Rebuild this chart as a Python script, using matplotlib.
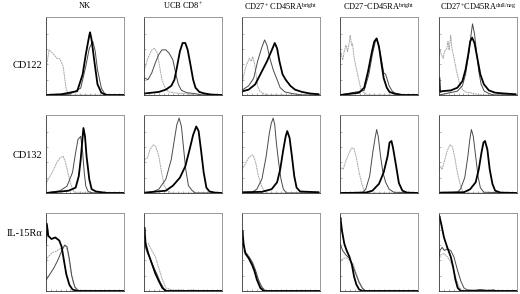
import matplotlib
matplotlib.use("Agg")
import matplotlib.pyplot as plt

plt.rcParams['font.family'] = ['Liberation Serif', 'DejaVu Serif']
plt.rcParams['mathtext.fontset'] = 'custom'
plt.rcParams['mathtext.rm'] = 'Liberation Serif'
plt.rcParams['mathtext.it'] = 'Liberation Serif:italic'
plt.rcParams['mathtext.bf'] = 'Liberation Serif:bold'

# ---- labels ----
col_titles = ["NK", "UCB CD8$^{+}$", "CD27$^{+}$ CD45RA$^{\\mathrm{bright}}$",
              "CD27$^{-}$CD45RA$^{\\mathrm{bright}}$", "CD27$^{+}$CD45RA$^{\\mathrm{dull/neg}}$"]
row_labels = ["CD122", "CD132", "IL-15R\u03b1"]

# ---- histogram data: (fluorescence position 0-1, relative count 0-1) ----
# Row 1: CD122
nk_cd122_iso = ([0.0, 0.01, 0.04, 0.10, 0.14, 0.18, 0.22, 0.24, 0.26, 0.29, 0.33, 1.0],
                [0.30, 0.40, 0.59, 0.53, 0.48, 0.47, 0.375, 0.22, 0.07, 0.02, 0.0, 0.0])
nk_cd122_thin = ([0.0, 0.30, 0.445, 0.51, 0.555, 0.60, 0.63, 0.66, 0.71, 0.75, 0.80, 1.0],
                 [0.0, 0.01, 0.09, 0.375, 0.61, 0.70, 0.58, 0.33, 0.09, 0.02, 0.0, 0.0])
nk_cd122_thick = ([0.0, 0.20, 0.40, 0.47, 0.51, 0.555, 0.565, 0.585, 0.62, 0.66, 0.71, 0.77, 1.0],
                  [0.0, 0.01, 0.05, 0.27, 0.53, 0.78, 0.82, 0.72, 0.44, 0.14, 0.03, 0.0, 0.0])

ucb_cd122_iso = ([0.0, 0.01, 0.05, 0.10, 0.135, 0.17, 0.20, 0.23, 0.27, 0.32, 0.41, 0.50, 0.59, 0.65, 1.0],
                 [0.30, 0.35, 0.48, 0.59, 0.61, 0.55, 0.375, 0.20, 0.095, 0.04, 0.025, 0.02, 0.01, 0.0, 0.0])
ucb_cd122_thin = ([0.0, 0.01, 0.05, 0.10, 0.145, 0.19, 0.23, 0.28, 0.32, 0.37, 0.405, 0.44, 0.48, 0.55, 0.64, 0.75, 1.0],
                  [0.20, 0.22, 0.20, 0.29, 0.42, 0.53, 0.59, 0.59, 0.55, 0.46, 0.29, 0.14, 0.06, 0.03, 0.02, 0.0, 0.0])
ucb_cd122_thick = ([0.0, 0.01, 0.19, 0.28, 0.35, 0.39, 0.42, 0.46, 0.495, 0.53, 0.56, 0.595, 0.63, 0.66, 0.71, 0.775, 0.865, 1.0],
                   [0.02, 0.02, 0.04, 0.07, 0.12, 0.20, 0.35, 0.57, 0.68, 0.68, 0.59, 0.40, 0.20, 0.095, 0.04, 0.02, 0.005, 0.0])

p3_cd122_iso = ([0.0, 0.01, 0.034, 0.05, 0.077, 0.094, 0.12, 0.136, 0.16, 0.18, 0.20, 0.23, 0.28, 0.34, 1.0],
                [0.15, 0.20, 0.31, 0.375, 0.44, 0.48, 0.44, 0.50, 0.42, 0.27, 0.12, 0.05, 0.015, 0.0, 0.0])
p3_cd122_thin = ([0.0, 0.01, 0.085, 0.15, 0.20, 0.25, 0.29, 0.32, 0.36, 0.40, 0.45, 0.49, 0.55, 0.64, 0.77, 1.0],
                 [0.06, 0.07, 0.12, 0.22, 0.44, 0.61, 0.72, 0.65, 0.47, 0.33, 0.20, 0.095, 0.04, 0.02, 0.0, 0.0])
p3_cd122_thick = ([0.0, 0.01, 0.085, 0.17, 0.255, 0.32, 0.375, 0.42, 0.45, 0.48, 0.52, 0.56, 0.62, 0.68, 0.77, 0.87, 0.98],
                  [0.04, 0.05, 0.07, 0.14, 0.31, 0.44, 0.57, 0.68, 0.61, 0.44, 0.27, 0.20, 0.12, 0.07, 0.04, 0.02, 0.01])

p4_cd122_iso = ([0.0, 0.013, 0.034, 0.055, 0.076, 0.097, 0.12, 0.13, 0.15, 0.16, 0.18, 0.20, 0.24, 0.27, 0.31, 0.35, 1.0],
                [0.45, 0.55, 0.46, 0.57, 0.65, 0.57, 0.69, 0.78, 0.65, 0.67, 0.50, 0.39, 0.20, 0.07, 0.03, 0.0, 0.0])
p4_cd122_thin = ([0.0, 0.31, 0.37, 0.415, 0.46, 0.49, 0.52, 0.56, 0.585, 0.63, 0.67, 0.71, 0.78, 1.0],
                 [0.0, 0.06, 0.27, 0.53, 0.73, 0.68, 0.53, 0.29, 0.27, 0.12, 0.05, 0.02, 0.0, 0.0])
p4_cd122_thick = ([0.0, 0.245, 0.31, 0.36, 0.41, 0.44, 0.47, 0.50, 0.53, 0.56, 0.60, 0.635, 0.69, 0.80, 1.0],
                  [0.0, 0.03, 0.095, 0.31, 0.57, 0.70, 0.74, 0.63, 0.42, 0.22, 0.095, 0.04, 0.02, 0.0, 0.0])

p5_cd122_iso = ([0.0, 0.013, 0.03, 0.055, 0.07, 0.10, 0.115, 0.13, 0.15, 0.165, 0.19, 0.225, 0.26, 0.30, 0.34, 0.40, 0.49, 0.55, 1.0],
                [0.50, 0.59, 0.53, 0.48, 0.57, 0.61, 0.70, 0.59, 0.78, 0.61, 0.50, 0.31, 0.16, 0.07, 0.04, 0.03, 0.01, 0.0, 0.0])
p5_cd122_thin = ([0.0, 0.235, 0.30, 0.34, 0.38, 0.41, 0.43, 0.455, 0.48, 0.51, 0.54, 0.58, 0.64, 0.70, 1.0],
                 [0.0, 0.05, 0.12, 0.27, 0.53, 0.78, 0.93, 0.80, 0.57, 0.31, 0.14, 0.05, 0.02, 0.0, 0.0])
p5_cd122_thick = ([0.005, 0.013, 0.04, 0.15, 0.235, 0.30, 0.34, 0.375, 0.40, 0.425, 0.455, 0.49, 0.53, 0.575, 0.64, 0.72, 0.83, 0.98],
                  [0.22, 0.04, 0.05, 0.06, 0.095, 0.18, 0.33, 0.53, 0.70, 0.75, 0.68, 0.49, 0.27, 0.14, 0.06, 0.03, 0.02, 0.01])

# Row 2: CD132
nk_cd132_iso = ([0.0, 0.01, 0.05, 0.10, 0.14, 0.18, 0.22, 0.25, 0.28, 0.31, 0.34, 0.36, 1.0],
                [0.12, 0.14, 0.22, 0.31, 0.40, 0.46, 0.48, 0.40, 0.27, 0.14, 0.05, 0.01, 0.0])
nk_cd132_thin = ([0.0, 0.18, 0.27, 0.34, 0.38, 0.41, 0.445, 0.47, 0.49, 0.51, 0.54, 0.60, 1.0],
                 [0.0, 0.03, 0.09, 0.27, 0.53, 0.70, 0.74, 0.53, 0.27, 0.09, 0.02, 0.0, 0.0])
nk_cd132_thick = ([0.0, 0.29, 0.38, 0.42, 0.445, 0.47, 0.48, 0.50, 0.52, 0.555, 0.585, 0.64, 0.71, 0.80, 1.0],
                  [0.0, 0.03, 0.07, 0.22, 0.44, 0.74, 0.85, 0.74, 0.48, 0.18, 0.05, 0.02, 0.01, 0.0, 0.0])

ucb_cd132_iso = ([0.0, 0.01, 0.045, 0.077, 0.12, 0.15, 0.19, 0.225, 0.26, 0.30, 0.35, 1.0],
                 [0.40, 0.44, 0.46, 0.57, 0.63, 0.61, 0.48, 0.27, 0.095, 0.03, 0.0, 0.0])
ucb_cd132_thin = ([0.0, 0.10, 0.19, 0.28, 0.35, 0.39, 0.42, 0.45, 0.48, 0.505, 0.535, 0.57, 0.62, 0.66, 1.0],
                  [0.0, 0.01, 0.05, 0.18, 0.44, 0.70, 0.89, 0.98, 0.87, 0.61, 0.31, 0.095, 0.03, 0.0, 0.0])
ucb_cd132_thick = ([0.0, 0.01, 0.28, 0.37, 0.46, 0.53, 0.585, 0.63, 0.67, 0.70, 0.73, 0.765, 0.80, 0.84, 0.91, 1.0],
                   [0.0, 0.005, 0.03, 0.095, 0.20, 0.35, 0.57, 0.76, 0.87, 0.81, 0.57, 0.27, 0.07, 0.02, 0.005, 0.0])

p3_cd132_iso = ([0.0, 0.01, 0.04, 0.085, 0.13, 0.15, 0.18, 0.21, 0.25, 0.28, 0.32, 1.0],
                [0.30, 0.33, 0.375, 0.46, 0.50, 0.48, 0.375, 0.22, 0.095, 0.03, 0.0, 0.0])
p3_cd132_thin = ([0.0, 0.13, 0.19, 0.255, 0.31, 0.35, 0.375, 0.40, 0.42, 0.44, 0.47, 0.50, 0.53, 0.57, 1.0],
                 [0.0, 0.01, 0.05, 0.18, 0.48, 0.78, 0.91, 0.98, 0.89, 0.66, 0.40, 0.18, 0.05, 0.0, 0.0])
p3_cd132_thick = ([0.0, 0.01, 0.255, 0.38, 0.45, 0.49, 0.53, 0.56, 0.58, 0.61, 0.64, 0.67, 0.70, 0.745, 0.85, 0.98],
                  [0.01, 0.01, 0.015, 0.05, 0.14, 0.31, 0.57, 0.74, 0.81, 0.72, 0.48, 0.22, 0.07, 0.02, 0.015, 0.01])

p4_cd132_iso = ([0.0, 0.013, 0.04, 0.076, 0.12, 0.15, 0.18, 0.21, 0.245, 0.28, 0.31, 0.34, 1.0],
                [0.30, 0.33, 0.31, 0.42, 0.53, 0.59, 0.58, 0.46, 0.27, 0.12, 0.03, 0.0, 0.0])
p4_cd132_thin = ([0.0, 0.29, 0.33, 0.38, 0.42, 0.45, 0.47, 0.49, 0.52, 0.55, 0.585, 0.63, 0.69, 1.0],
                 [0.0, 0.01, 0.05, 0.22, 0.53, 0.72, 0.83, 0.74, 0.48, 0.27, 0.14, 0.05, 0.01, 0.0])
p4_cd132_thick = ([0.0, 0.33, 0.415, 0.50, 0.56, 0.61, 0.635, 0.66, 0.68, 0.72, 0.755, 0.80, 0.86, 1.0],
                  [0.0, 0.005, 0.03, 0.12, 0.27, 0.48, 0.66, 0.68, 0.59, 0.35, 0.13, 0.03, 0.005, 0.0])

p5_cd132_iso = ([0.0, 0.013, 0.04, 0.07, 0.105, 0.14, 0.17, 0.20, 0.235, 0.27, 0.30, 0.33, 1.0],
                [0.30, 0.35, 0.31, 0.42, 0.55, 0.63, 0.61, 0.48, 0.27, 0.12, 0.03, 0.0, 0.0])
p5_cd132_thin = ([0.0, 0.235, 0.275, 0.33, 0.37, 0.395, 0.415, 0.44, 0.47, 0.50, 0.53, 0.575, 1.0],
                 [0.0, 0.01, 0.05, 0.20, 0.48, 0.70, 0.83, 0.74, 0.48, 0.22, 0.07, 0.01, 0.0])
p5_cd132_thick = ([0.0, 0.02, 0.32, 0.40, 0.47, 0.51, 0.545, 0.57, 0.59, 0.62, 0.65, 0.685, 0.72, 0.79, 1.0],
                  [0.0, 0.005, 0.01, 0.05, 0.14, 0.31, 0.53, 0.66, 0.68, 0.57, 0.31, 0.12, 0.03, 0.005, 0.0])

# Row 3: IL-15Ralpha
nk_il15_iso = ([0.0, 0.03, 0.08, 0.13, 0.18, 0.22, 0.25, 0.28, 0.31, 0.35, 0.40, 1.0],
               [0.40, 0.45, 0.50, 0.52, 0.55, 0.58, 0.60, 0.50, 0.30, 0.10, 0.01, 0.0])
nk_il15_thin = ([0.0, 0.05, 0.10, 0.15, 0.20, 0.24, 0.27, 0.30, 0.33, 0.37, 0.42, 1.0],
                [0.14, 0.22, 0.30, 0.40, 0.52, 0.60, 0.58, 0.42, 0.20, 0.05, 0.0, 0.0])
nk_il15_thick = ([0.0, 0.01, 0.03, 0.07, 0.12, 0.17, 0.20, 0.23, 0.26, 0.30, 0.34, 0.40, 1.0],
                 [0.62, 0.88, 0.72, 0.68, 0.70, 0.66, 0.58, 0.40, 0.22, 0.08, 0.02, 0.0, 0.0])

ucb_il15_iso = ([0.0, 0.02, 0.055, 0.10, 0.145, 0.19, 0.235, 0.28, 0.37, 0.46, 0.55, 0.62, 0.70, 0.75, 1.0],
                [0.55, 0.62, 0.62, 0.53, 0.45, 0.30, 0.15, 0.04, 0.01, 0.015, 0.005, 0.015, 0.005, 0.0, 0.0])
ucb_il15_thin = ([0.0, 0.03, 0.075, 0.12, 0.17, 0.21, 0.255, 0.30, 1.0],
                 [0.66, 0.53, 0.43, 0.32, 0.21, 0.11, 0.03, 0.0, 0.0])
ucb_il15_thick = ([0.0, 0.005, 0.02, 0.055, 0.10, 0.145, 0.19, 0.235, 0.28, 1.0],
                  [0.70, 0.83, 0.62, 0.49, 0.36, 0.23, 0.13, 0.04, 0.0, 0.0])

p3_il15_iso = ([0.0, 0.02, 0.064, 0.106, 0.15, 0.19, 0.23, 0.28, 0.32, 1.0],
               [0.50, 0.53, 0.49, 0.43, 0.34, 0.21, 0.085, 0.02, 0.0, 0.0])
p3_il15_thin = ([0.0, 0.01, 0.043, 0.085, 0.13, 0.17, 0.21, 0.255, 0.30, 1.0],
                [0.60, 0.62, 0.51, 0.45, 0.38, 0.28, 0.15, 0.05, 0.0, 0.0])
p3_il15_thick = ([0.0, 0.005, 0.02, 0.043, 0.085, 0.13, 0.16, 0.19, 0.235, 0.28, 1.0],
                 [0.70, 0.79, 0.62, 0.49, 0.43, 0.34, 0.26, 0.15, 0.04, 0.0, 0.0])

p4_il15_iso = ([0.0, 0.013, 0.055, 0.097, 0.14, 0.17, 0.20, 0.245, 0.29, 0.33, 1.0],
               [0.38, 0.40, 0.43, 0.43, 0.38, 0.36, 0.255, 0.13, 0.04, 0.0, 0.0])
p4_il15_thin = ([0.0, 0.034, 0.076, 0.12, 0.16, 0.20, 0.245, 0.29, 0.33, 1.0],
                [0.62, 0.53, 0.47, 0.43, 0.34, 0.23, 0.11, 0.03, 0.0, 0.0])
p4_il15_thick = ([0.0, 0.005, 0.025, 0.055, 0.085, 0.12, 0.153, 0.18, 0.21, 0.245, 0.29, 1.0],
                 [0.90, 0.96, 0.79, 0.62, 0.53, 0.45, 0.34, 0.19, 0.085, 0.02, 0.0, 0.0])

p5_il15_iso = ([0.0, 0.02, 0.064, 0.106, 0.15, 0.18, 0.21, 0.255, 0.30, 1.0],
               [0.40, 0.47, 0.49, 0.45, 0.38, 0.30, 0.19, 0.06, 0.0, 0.0])
p5_il15_thin = ([0.0, 0.013, 0.04, 0.07, 0.106, 0.15, 0.19, 0.235, 0.28, 0.32, 0.36, 0.45, 0.53, 0.62, 0.70, 0.75, 1.0],
                [0.45, 0.53, 0.57, 0.53, 0.55, 0.53, 0.45, 0.28, 0.13, 0.04, 0.015, 0.01, 0.02, 0.01, 0.015, 0.0, 0.0])
p5_il15_thick = ([0.0, 0.005, 0.03, 0.064, 0.106, 0.15, 0.18, 0.21, 0.24, 0.28, 1.0],
                 [0.95, 0.98, 0.87, 0.70, 0.57, 0.45, 0.32, 0.15, 0.04, 0.0, 0.0])

panels = [
    [(nk_cd122_iso, nk_cd122_thin, nk_cd122_thick),
     (ucb_cd122_iso, ucb_cd122_thin, ucb_cd122_thick),
     (p3_cd122_iso, p3_cd122_thin, p3_cd122_thick),
     (p4_cd122_iso, p4_cd122_thin, p4_cd122_thick),
     (p5_cd122_iso, p5_cd122_thin, p5_cd122_thick)],
    [(nk_cd132_iso, nk_cd132_thin, nk_cd132_thick),
     (ucb_cd132_iso, ucb_cd132_thin, ucb_cd132_thick),
     (p3_cd132_iso, p3_cd132_thin, p3_cd132_thick),
     (p4_cd132_iso, p4_cd132_thin, p4_cd132_thick),
     (p5_cd132_iso, p5_cd132_thin, p5_cd132_thick)],
    [(nk_il15_iso, nk_il15_thin, nk_il15_thick),
     (ucb_il15_iso, ucb_il15_thin, ucb_il15_thick),
     (p3_il15_iso, p3_il15_thin, p3_il15_thick),
     (p4_il15_iso, p4_il15_thin, p4_il15_thick),
     (p5_il15_iso, p5_il15_thin, p5_il15_thick)],
]

# ---- layout (pixels) ----
W, H = 520, 294
col_left = [46, 144, 242, 340, 439]
row_top = [17, 115, 213]
pw, ph = 78, 78
row_label_y = [65, 155, 233]

fig = plt.figure(figsize=(W / 100, H / 100), dpi=100)
fig.patch.set_facecolor('white')

for r in range(3):
    for c in range(5):
        ax = fig.add_axes([col_left[c] / W, (H - row_top[r] - ph) / H, pw / W, ph / H])
        iso, thin, thick = panels[r][c]
        ax.plot(iso[0], iso[1], color='#a8a8a8', lw=0.7, ls=(0, (2, 0.6)))
        ax.plot(thin[0], thin[1], color='#4a4a4a', lw=0.7)
        ax.plot(thick[0], thick[1], color='black', lw=1.3)
        ax.set_xlim(0, 1)
        ax.set_ylim(0, 1.02)
        ax.set_xticks([i / 16 for i in range(1, 16)])
        ax.set_yticks([0.2, 0.4, 0.6, 0.8])
        ax.tick_params(direction='in', length=1.5, width=0.4, colors='#777777',
                       labelleft=False, labelbottom=False)
        for s in ax.spines.values():
            s.set_color('#888888')
            s.set_linewidth(0.6)
        ax.spines['left'].set_color('#333333')
        ax.spines['bottom'].set_color('#333333')
        if r == 0:
            fig.text((col_left[c] + pw / 2) / W, 1 - 6 / H, col_titles[c],
                     ha='center', va='center', fontsize=6)
    fig.text(42 / W, 1 - row_label_y[r] / H, row_labels[r], ha='right', va='center', fontsize=7.5)

fig.savefig('out.png', dpi=100)
